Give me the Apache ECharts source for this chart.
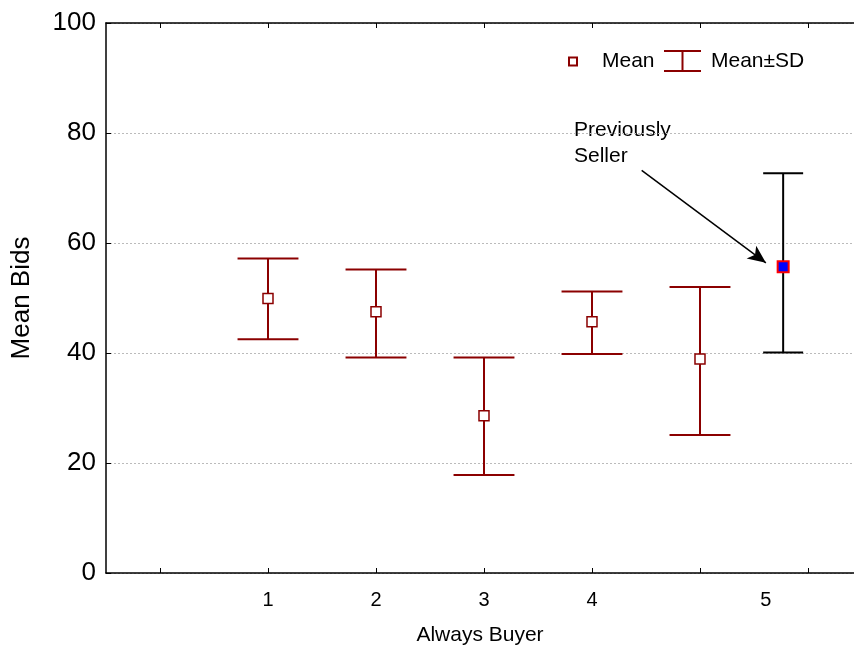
<!DOCTYPE html>
<html>
<head>
<meta charset="utf-8">
<script src="https://cdn.jsdelivr.net/npm/echarts@6/dist/echarts.min.js"></script>
<style>html,body{margin:0;padding:0;background:#fff;}#c{width:854px;height:648px;}</style>
</head>
<body>
<div id="c"></div>
<script>
// ---- data ----
const groupPos  = [2, 3, 4, 5, 6];
const means     = [49.9, 47.5, 28.6, 45.7, 38.9];
const sdLow     = [42.5, 39.2, 17.8, 39.8, 25.1];
const sdHigh    = [57.2, 55.2, 39.2, 51.2, 52.0];
const sellerPos  = [6.77];
const sellerMean = [55.7];
const sellerLow  = [40.1];
const sellerHigh = [72.7];
const xTickPos      = [1, 2, 3, 4, 5, 6, 7];
const xTickLabels   = ['1', '2', '3', '4', '5'];
const xTickLabelPos = [2, 3, 4, 5, 6.61];
const xRange = [0.5, 7.426];
const yTicks = [0, 20, 40, 60, 80, 100];
const arrowFrom = [5.46, 73.2];
const arrowTo   = [6.61, 56.4];
const annotationText = 'Previously\nSeller';

const FONT = 'Liberation Sans, Arial, Helvetica, sans-serif';
const RED = '#8b0000';

function errorBar(capHalf, color) {
  return function (params, api) {
    const x = api.value(0), lo = api.value(1), hi = api.value(2);
    const pLo = api.coord([x, lo]), pHi = api.coord([x, hi]);
    const l = api.coord([x - capHalf, lo])[0], r = api.coord([x + capHalf, lo])[0];
    const st = { stroke: color, lineWidth: 2 };
    return {
      type: 'group',
      children: [
        { type: 'line', shape: { x1: pLo[0], y1: pLo[1], x2: pHi[0], y2: pHi[1] }, style: st },
        { type: 'line', shape: { x1: l, y1: pLo[1], x2: r, y2: pLo[1] }, style: st },
        { type: 'line', shape: { x1: l, y1: pHi[1], x2: r, y2: pHi[1] }, style: st }
      ]
    };
  };
}

const chart = echarts.init(document.getElementById('c'), null, { renderer: 'canvas' });

const tickCommon = { show: true, inside: true, length: 5, customValues: xTickPos, lineStyle: { color: '#000', width: 1 } };

chart.setOption({
  animation: false,
  backgroundColor: '#fff',
  textStyle: { fontFamily: FONT },
  grid: { left: 106, top: 23, right: 0, height: 550, outerBoundsMode: 'none', containLabel: false },
  legend: [
    {
      left: 568, top: 51, padding: 0, itemWidth: 8, itemHeight: 8,
      data: ['Mean'],
      textStyle: { fontSize: 21, color: '#000', fontFamily: FONT, padding: [0, 0, 0, 20] }
    },
    {
      left: 664, top: 50, padding: 0, itemWidth: 37, itemHeight: 22,
      data: [{ name: 'Mean±SD', icon: 'path://M0,0H37V2H19.5V20H37V22H0V20H17.5V2H0Z' }],
      textStyle: { fontSize: 21, color: '#000', fontFamily: FONT, padding: [0, 0, 0, 5] }
    }
  ],
  xAxis: [
    {
      type: 'value', min: xRange[0], max: xRange[1], position: 'bottom',
      axisLine: { show: true, lineStyle: { color: '#000', width: 1.5 } },
      axisTick: tickCommon,
      axisLabel: {
        show: true, customValues: xTickLabelPos, fontSize: 20, color: '#000', margin: 17, fontFamily: FONT,
        formatter: (v) => { const i = xTickLabelPos.findIndex((p) => Math.abs(p - v) < 1e-6); return i >= 0 ? xTickLabels[i] : ''; }
      },
      splitLine: { show: false },
      name: 'Always Buyer', nameLocation: 'middle', nameGap: 52,
      nameTextStyle: { fontSize: 21, color: '#000', fontFamily: FONT }
    },
    {
      type: 'value', min: xRange[0], max: xRange[1], position: 'top',
      axisLine: { show: true, lineStyle: { color: '#000', width: 1.5 } },
      axisTick: tickCommon,
      axisLabel: { show: false },
      splitLine: { show: false }
    }
  ],
  yAxis: {
    type: 'value', min: yTicks[0], max: yTicks[yTicks.length - 1], interval: 20,
    axisLine: { show: true, lineStyle: { color: '#000', width: 1.5 } },
    axisTick: { show: true, inside: true, length: 5, lineStyle: { color: '#000', width: 1 } },
    axisLabel: { fontSize: 26, color: '#000', margin: 10, fontFamily: FONT },
    splitLine: { show: true, lineStyle: { color: '#bbbbbb', type: [2, 2], width: 1 } },
    name: 'Mean Bids', nameLocation: 'middle', nameGap: 71, nameRotate: 90,
    nameTextStyle: { fontSize: 26, color: '#000', fontFamily: FONT }
  },
  graphic: [
    {
      type: 'text', left: 574, top: 117,
      style: { text: annotationText, fontSize: 21, lineHeight: 26, fill: '#000', fontFamily: FONT }
    }
  ],
  series: [
    {
      name: 'Mean±SD', type: 'custom', xAxisIndex: 0, yAxisIndex: 0,
      itemStyle: { color: RED },
      renderItem: errorBar(0.282, RED),
      encode: { x: 0, y: [1, 2] },
      data: groupPos.map((x, i) => [x, sdLow[i], sdHigh[i]]),
      z: 2
    },
    {
      name: 'Previously Seller SD', type: 'custom', xAxisIndex: 0, yAxisIndex: 0,
      renderItem: errorBar(0.185, '#000'),
      encode: { x: 0, y: [1, 2] },
      data: sellerPos.map((x, i) => [x, sellerLow[i], sellerHigh[i]]),
      z: 2
    },
    {
      name: 'Mean', type: 'scatter', xAxisIndex: 0, yAxisIndex: 0,
      symbol: 'rect', symbolSize: 10,
      itemStyle: { color: '#fff', borderColor: RED, borderWidth: 1.5, opacity: 1 },
      data: groupPos.map((x, i) => [x, means[i]]),
      z: 5
    },
    {
      name: 'Previously Seller', type: 'scatter', xAxisIndex: 0, yAxisIndex: 0,
      symbol: 'rect', symbolSize: 11,
      itemStyle: { color: '#0000ff', borderColor: '#ff0000', borderWidth: 2, opacity: 1 },
      data: sellerPos.map((x, i) => [x, sellerMean[i]]),
      z: 5,
      markLine: {
        silent: true, animation: false,
        symbol: ['none', 'arrow'], symbolSize: [12, 18],
        lineStyle: { color: '#000', width: 1.5, type: 'solid' },
        label: { show: false },
        data: [[{ coord: arrowFrom }, { coord: arrowTo }]]
      }
    }
  ]
});
</script>
</body>
</html>
